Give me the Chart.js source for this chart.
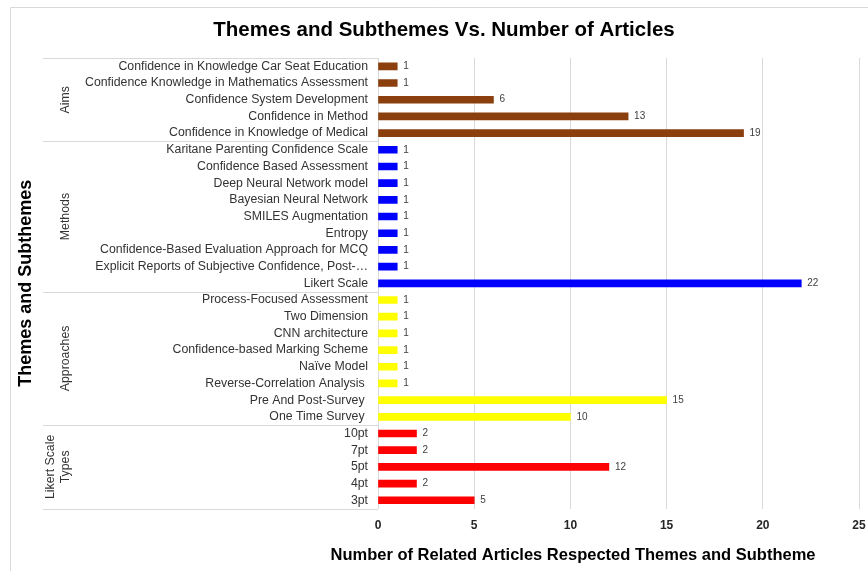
<!DOCTYPE html>
<html>
<head>
<meta charset="utf-8">
<script src="https://cdn.jsdelivr.net/npm/chart.js@4.4.0/dist/chart.umd.min.js"></script>
<style>
html, body { margin: 0; padding: 0; background: #fff; }
</style>
</head>
<body>
<canvas id="themesChart" width="868" height="571"></canvas>
<script>
// subthemes, top to bottom
var categories = [
    "Confidence in Knowledge Car Seat Education",
    "Confidence Knowledge in Mathematics Assessment",
    "Confidence System Development",
    "Confidence in Method",
    "Confidence in Knowledge of Medical",
    "Karitane Parenting Confidence Scale",
    "Confidence Based Assessment",
    "Deep Neural Network model",
    "Bayesian Neural Network",
    "SMILES Augmentation",
    "Entropy",
    "Confidence-Based Evaluation Approach for MCQ",
    "Explicit Reports of Subjective Confidence, Post-\u2026",
    "Likert Scale",
    "Process-Focused Assessment",
    "Two Dimension",
    "CNN architecture",
    "Confidence-based Marking Scheme",
    "Na\u00efve Model",
    "Reverse-Correlation Analysis ",
    "Pre And Post-Survey ",
    "One Time Survey ",
    "10pt",
    "7pt",
    "5pt",
    "4pt",
    "3pt"
];
var articleCounts = [1, 1, 6, 13, 19, 1, 1, 1, 1, 1, 1, 1, 1, 22, 1, 1, 1, 1, 1, 1, 15, 10, 2, 2, 12, 2, 5];

// themes (outer category level)
var themeNames = [["Aims"], ["Methods"], ["Approaches"], ["Likert Scale", "Types"]];
var themeSizes = [5, 9, 8, 5];
var themeColors = ["#8b3f0f", "#0000ff", "#ffff00", "#ff0000"];

var chartTitle = "Themes and Subthemes Vs. Number of Articles";
var xTitle = "Number of Related Articles Respected Themes and Subtheme";

var barColors = [];
themeSizes.forEach(function (n, g) {
    for (var i = 0; i < n; i++) barColors.push(themeColors[g]);
});

var FONT = '"Liberation Sans", Arial, sans-serif';

var decorations = {
    id: 'decorations',
    beforeDraw: function (chart) {
        var c = chart.ctx;
        c.save();
        c.strokeStyle = '#d9d9d9';
        c.lineWidth = 1;
        c.beginPath();
        c.moveTo(10.5, 571);
        c.lineTo(10.5, 7.5);
        c.lineTo(868, 7.5);
        c.stroke();
        c.restore();
    },
    afterDatasetsDraw: function (chart) {
        var c = chart.ctx;
        var meta = chart.getDatasetMeta(0);
        c.save();
        c.font = '10px ' + FONT;
        c.fillStyle = '#404040';
        c.textAlign = 'left';
        c.textBaseline = 'middle';
        meta.data.forEach(function (bar, i) {
            c.fillText(articleCounts[i], bar.x + 6, bar.y);
        });
        c.restore();
    },
    afterDraw: function (chart) {
        var c = chart.ctx;
        var y = chart.scales.y;
        var half = (y.getPixelForValue(1) - y.getPixelForValue(0)) / 2;
        var left = 43, right = chart.chartArea.left;
        c.save();
        c.strokeStyle = '#d9d9d9';
        c.lineWidth = 1;
        c.font = '12.3px ' + FONT;
        c.fillStyle = '#333';
        c.textAlign = 'center';
        c.textBaseline = 'middle';
        var start = 0;
        themeSizes.forEach(function (n, g) {
            var top = y.getPixelForValue(start) - half;
            var bottom = y.getPixelForValue(start + n - 1) + half;
            c.beginPath();
            c.moveTo(left, Math.round(top) + 0.5);
            c.lineTo(right, Math.round(top) + 0.5);
            c.stroke();
            if (g === themeSizes.length - 1) {
                c.beginPath();
                c.moveTo(left, Math.round(bottom) + 0.5);
                c.lineTo(right, Math.round(bottom) + 0.5);
                c.stroke();
            }
            var lines = themeNames[g];
            var mid = (top + bottom) / 2;
            lines.forEach(function (txt, k) {
                var x = 66 - (lines.length - 1 - k) * 15;
                c.save();
                c.translate(x, mid);
                c.rotate(-Math.PI / 2);
                c.fillText(txt, 0, 0);
                c.restore();
            });
            start += n;
        });
        c.fillStyle = '#000';
        c.font = 'bold 20.5px ' + FONT;
        c.fillText(chartTitle, 444, 30);
        c.font = 'bold 16.5px ' + FONT;
        c.fillText(xTitle, 573, 555);
        c.restore();
    }
};

var ctx = document.getElementById('themesChart').getContext('2d');
var themesChart = new Chart(ctx, {
    type: 'bar',
    data: {
        labels: categories,
        datasets: [{
            data: articleCounts,
            backgroundColor: barColors,
            barThickness: 7
        }]
    },
    options: {
        indexAxis: 'y',
        responsive: false,
        animation: false,
        layout: {
            padding: { left: 11, right: 9, top: 58, bottom: 28 }
        },
        plugins: {
            legend: { display: false },
            tooltip: { enabled: false }
        },
        scales: {
            x: {
                min: 0,
                max: 25,
                ticks: {
                    stepSize: 5,
                    padding: 10,
                    color: '#262626',
                    font: { family: FONT, size: 12, weight: 'bold' }
                },
                grid: { color: '#d9d9d9', drawTicks: false },
                border: { display: false },
                afterFit: function (scale) {
                    scale.paddingRight = 0;
                }
            },
            y: {
                ticks: {
                    autoSkip: false,
                    padding: 10,
                    color: '#333',
                    font: { family: FONT, size: 12.3 }
                },
                grid: { display: false, drawTicks: false },
                border: { display: false },
                title: {
                    display: true,
                    text: 'Themes and Subthemes',
                    color: '#000',
                    font: { family: FONT, size: 18, weight: 'bold' },
                    padding: { top: 4, bottom: 4 }
                },
                afterFit: function (scale) {
                    scale.width = 367;
                }
            }
        }
    },
    plugins: [decorations]
});
</script>
</body>
</html>
